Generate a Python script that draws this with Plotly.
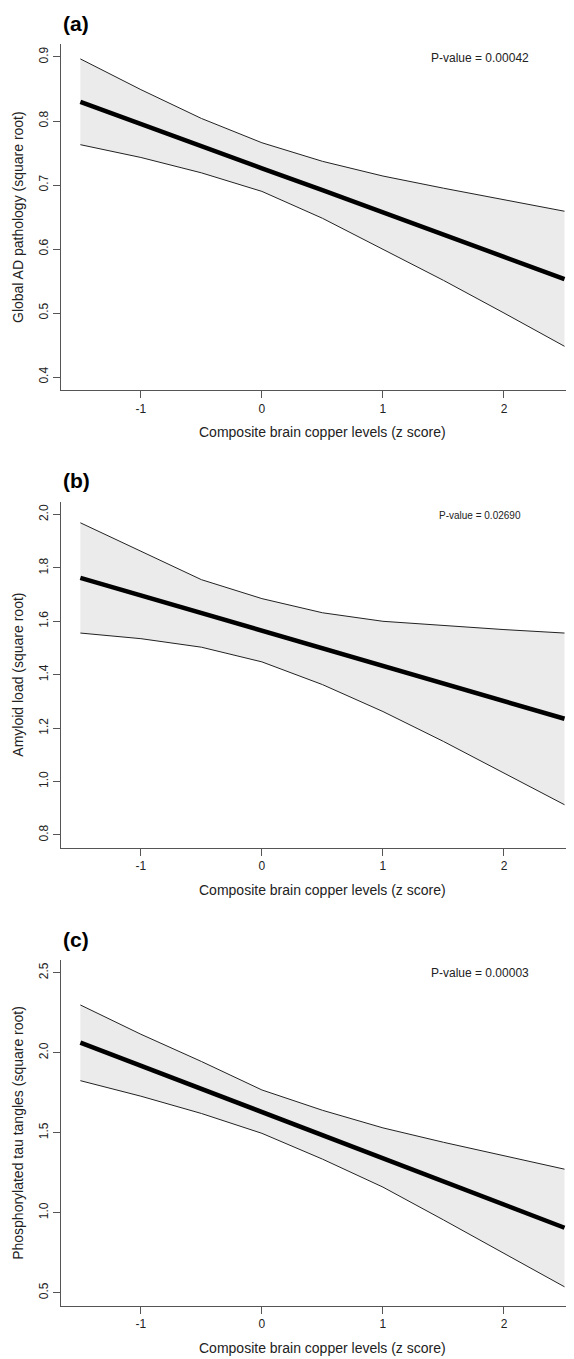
import plotly.graph_objects as go

# ---------------- data ----------------
x_vals = [-1.5, -1.0, -0.5, 0.0, 0.5, 1.0, 1.5, 2.0, 2.5]

a_upper = [0.897, 0.849, 0.804, 0.766, 0.737, 0.714, 0.695, 0.677, 0.659]
a_mean  = [0.830, 0.795, 0.761, 0.726, 0.692, 0.657, 0.622, 0.588, 0.553]
a_lower = [0.763, 0.743, 0.719, 0.690, 0.648, 0.600, 0.551, 0.500, 0.448]

b_upper = [1.969, 1.862, 1.756, 1.685, 1.632, 1.600, 1.584, 1.569, 1.556]
b_mean  = [1.763, 1.697, 1.631, 1.565, 1.499, 1.433, 1.367, 1.301, 1.235]
b_lower = [1.556, 1.535, 1.503, 1.448, 1.363, 1.262, 1.150, 1.031, 0.913]

c_upper = [2.298, 2.115, 1.945, 1.767, 1.640, 1.530, 1.440, 1.355, 1.272]
c_mean  = [2.063, 1.918, 1.774, 1.629, 1.485, 1.340, 1.196, 1.051, 0.906]
c_lower = [1.825, 1.728, 1.620, 1.496, 1.335, 1.160, 0.955, 0.745, 0.537]

x_ticks = [-1, 0, 1, 2]
x_ticktext = ["-1", "0", "1", "2"]

a_yticks = [0.4, 0.5, 0.6, 0.7, 0.8, 0.9]
a_yticktext = ["0.4", "0.5", "0.6", "0.7", "0.8", "0.9"]
b_yticks = [0.8, 1.0, 1.2, 1.4, 1.6, 1.8, 2.0]
b_yticktext = ["0.8", "1.0", "1.2", "1.4", "1.6", "1.8", "2.0"]
c_yticks = [0.5, 1.0, 1.5, 2.0, 2.5]
c_yticktext = ["0.5", "1.0", "1.5", "2.0", "2.5"]

panel_labels = ["(a)", "(b)", "(c)"]
y_titles = ["Global AD pathology (square root)",
            "Amyloid load (square root)",
            "Phosphorylated tau tangles (square root)"]
x_title = "Composite brain copper levels (z score)"
p_texts = ["P-value = 0.00042", "P-value = 0.02690", "P-value = 0.00003"]
p_x = [1.8, 1.8, 1.8]
p_y = [0.898, 1.996, 2.5]
p_sizes = [12, 10, 12]

# ---------------- layout geometry ----------------
W, H = 574, 1359
OFF = 8  # page body margin offset of the figure div (screen px)
FONT = "Liberation Sans, Arial, sans-serif"
tops = [44, 501.7, 960]          # screen px
bottoms = [390, 847.7, 1305.7]   # screen px
left_px = 61                     # screen px
right_px = 574                   # screen px
y_ranges = [[0.3797, 0.9203], [0.752, 2.048], [0.419, 2.579]]
x_range = [-1.66, 2.5785]


def px(xs):
    return (xs - OFF) / W


def py(ys):
    return 1 - (ys - OFF) / H


panels = [
    (a_upper, a_mean, a_lower, a_yticks, a_yticktext),
    (b_upper, b_mean, b_lower, b_yticks, b_yticktext),
    (c_upper, c_mean, c_lower, c_yticks, c_yticktext),
]

AX_COL = "#555555"
TXT_COL = "#222222"

fig = go.Figure()
layout = dict(
    width=W, height=H,
    margin=dict(l=0, r=0, t=0, b=0),
    paper_bgcolor="white", plot_bgcolor="white",
    showlegend=False,
    font=dict(family=FONT, color=TXT_COL),
)
annotations = []

for i, (up, mn, lo, yt, ytt) in enumerate(panels):
    n = "" if i == 0 else str(i + 1)
    xa, ya = "x" + n, "y" + n
    fig.add_trace(go.Scatter(x=x_vals, y=lo, mode="lines",
                             line=dict(color="#222222", width=1),
                             xaxis=xa, yaxis=ya, hoverinfo="skip"))
    fig.add_trace(go.Scatter(x=x_vals, y=up, mode="lines", fill="tonexty",
                             fillcolor="#ebebeb",
                             line=dict(color="#222222", width=1),
                             xaxis=xa, yaxis=ya, hoverinfo="skip"))
    fig.add_trace(go.Scatter(x=x_vals, y=mn, mode="lines",
                             line=dict(color="black", width=4.5),
                             xaxis=xa, yaxis=ya, hoverinfo="skip"))

    common = dict(showline=True, linecolor=AX_COL, linewidth=1.3,
                  ticks="outside", ticklen=7, tickcolor=AX_COL, tickwidth=1.3,
                  showgrid=False, zeroline=False, automargin=False,
                  tickfont=dict(size=12, color=TXT_COL, family=FONT))
    layout["xaxis" + n] = dict(domain=[px(left_px), px(right_px)], range=x_range,
                               anchor=ya, tickvals=x_ticks, ticktext=x_ticktext,
                               **common)
    layout["yaxis" + n] = dict(domain=[py(bottoms[i]), py(tops[i])],
                               range=y_ranges[i], anchor=xa,
                               tickvals=yt, ticktext=ytt, tickangle=-90,
                               **common)

    # panel label
    annotations.append(dict(text="<b>" + panel_labels[i] + "</b>",
                            xref="paper", yref="paper",
                            x=px(left_px), y=py(tops[i] - 21),
                            xanchor="left", yanchor="middle", showarrow=False,
                            font=dict(size=21, color="black", family=FONT)))
    # x title
    annotations.append(dict(text=x_title, xref="paper", yref="paper",
                            x=px(322.5), y=py(bottoms[i] + 42),
                            xanchor="center", yanchor="middle", showarrow=False,
                            font=dict(size=14, color=TXT_COL, family=FONT)))
    # y title
    annotations.append(dict(text=y_titles[i], xref="paper", yref="paper",
                            x=px(18), y=py((tops[i] + bottoms[i]) / 2),
                            xanchor="center", yanchor="middle", textangle=-90,
                            showarrow=False,
                            font=dict(size=14, color=TXT_COL, family=FONT)))
    # p-value
    annotations.append(dict(text=p_texts[i], xref=xa, yref=ya,
                            x=p_x[i], y=p_y[i],
                            xanchor="center", yanchor="middle", showarrow=False,
                            font=dict(size=p_sizes[i], color=TXT_COL, family=FONT)))

layout["annotations"] = annotations
fig.update_layout(**layout)
fig.write_html("out.html")
